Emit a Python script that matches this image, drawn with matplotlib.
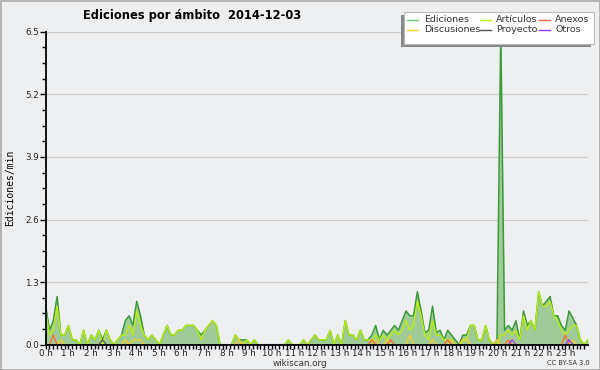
import numpy as np
import matplotlib
matplotlib.use("Agg")
import matplotlib.pyplot as plt
from matplotlib.patches import Rectangle
from matplotlib.lines import Line2D

title = "Ediciones por ámbito  2014-12-03"
hour_labels = [f"{h} h" for h in range(24)]
y_ticks = [0.0, 1.3, 2.6, 3.9, 5.2, 6.5]

# edits/min, 10-minute bins (144 per day)
ediciones = [
    0.8, 0.3, 0.5, 1.0, 0.2, 0.2, 0.4, 0.1, 0.1, 0.0,
    0.3, 0.0, 0.2, 0.1, 0.3, 0.1, 0.3, 0.1, 0.0, 0.1,
    0.2, 0.5, 0.6, 0.4, 0.9, 0.6, 0.2, 0.1, 0.2, 0.1,
    0.0, 0.2, 0.4, 0.2, 0.2, 0.3, 0.3, 0.4, 0.4, 0.4,
    0.3, 0.2, 0.3, 0.4, 0.5, 0.4, 0.0, 0.0, 0.0, 0.0,
    0.2, 0.1, 0.1, 0.1, 0.0, 0.1, 0.0, 0.0, 0.0, 0.0,
    0.0, 0.0, 0.0, 0.0, 0.1, 0.0, 0.0, 0.0, 0.1, 0.0,
    0.1, 0.2, 0.1, 0.1, 0.1, 0.3, 0.0, 0.2, 0.0, 0.5,
    0.2, 0.2, 0.1, 0.3, 0.1, 0.1, 0.2, 0.4, 0.1, 0.3,
    0.2, 0.3, 0.4, 0.3, 0.5, 0.7, 0.6, 0.6, 1.1, 0.7,
    0.25, 0.3, 0.8, 0.25, 0.3, 0.1, 0.3, 0.2, 0.1, 0.0,
    0.2, 0.2, 0.4, 0.4, 0.1, 0.1, 0.4, 0.1, 0.0, 0.1,
    6.5, 0.3, 0.4, 0.3, 0.5, 0.1, 0.7, 0.4, 0.5, 0.3,
    1.1, 0.8, 0.9, 1.0, 0.6, 0.6, 0.4, 0.3, 0.7, 0.55,
    0.4, 0.1, 0.0, 0.1,
]
articulos = [
    0.7, 0.2, 0.3, 0.8, 0.2, 0.2, 0.4, 0.1, 0.1, 0.0,
    0.3, 0.0, 0.2, 0.1, 0.3, 0.0, 0.3, 0.1, 0.0, 0.1,
    0.2, 0.2, 0.4, 0.2, 0.7, 0.4, 0.2, 0.1, 0.2, 0.1,
    0.0, 0.2, 0.4, 0.2, 0.2, 0.3, 0.3, 0.4, 0.4, 0.4,
    0.3, 0.1, 0.3, 0.4, 0.5, 0.4, 0.0, 0.0, 0.0, 0.0,
    0.2, 0.1, 0.0, 0.1, 0.0, 0.1, 0.0, 0.0, 0.0, 0.0,
    0.0, 0.0, 0.0, 0.0, 0.1, 0.0, 0.0, 0.0, 0.1, 0.0,
    0.1, 0.2, 0.1, 0.1, 0.1, 0.3, 0.0, 0.2, 0.0, 0.5,
    0.2, 0.2, 0.1, 0.3, 0.1, 0.1, 0.1, 0.2, 0.1, 0.2,
    0.1, 0.2, 0.3, 0.2, 0.3, 0.5, 0.3, 0.4, 0.9, 0.6,
    0.2, 0.1, 0.5, 0.2, 0.2, 0.1, 0.1, 0.1, 0.0, 0.0,
    0.1, 0.1, 0.4, 0.4, 0.1, 0.1, 0.4, 0.1, 0.0, 0.0,
    0.2, 0.2, 0.3, 0.2, 0.3, 0.1, 0.6, 0.3, 0.5, 0.3,
    1.1, 0.8, 0.8, 0.9, 0.6, 0.5, 0.3, 0.2, 0.3, 0.4,
    0.4, 0.1, 0.0, 0.1,
]
discusiones = [0.0] * 144
for k, v in {4: 0.1, 21: 0.1, 23: 0.1, 24: 0.1, 25: 0.1, 51: 0.1, 87: 0.1,
             90: 0.1, 96: 0.2, 102: 0.1, 107: 0.1, 110: 0.1, 111: 0.1,
             119: 0.1, 123: 0.1, 139: 0.1}.items():
    discusiones[k] = v
anexos = [0.0] * 144
for k, v in {2: 0.2, 86: 0.1, 91: 0.1, 106: 0.1, 122: 0.1, 137: 0.2}.items():
    anexos[k] = v
proyecto = [0.0] * 144
proyecto[15] = 0.1
otros = [0.0] * 144
otros[123] = 0.1
otros[138] = 0.1

bg = "#eeeff0"
fig = plt.figure(figsize=(6.0, 3.7), dpi=100, facecolor=bg)
ax = fig.add_axes([45.7 / 600, 1 - 344.7 / 370, (588 - 45.7) / 600, (344.7 - 31.7) / 370])
ax.set_facecolor(bg)

x = np.arange(144) * 24.0 / 143.0

c_ed_line = "#3a9a3a"
c_ed_fill = "#9fcb98"
c_art = "#bbee11"
c_dis = "#ffcc22"
c_anx = "#ff6633"
c_pro = "#555555"
c_otr = "#9933ff"

ax.fill_between(x, 0, ediciones, color=c_ed_fill, lw=0, zorder=1)
ax.plot(x, ediciones, color=c_ed_line, lw=1.1, zorder=2)
ax.plot(x, articulos, color=c_art, lw=1.0, zorder=3)
ax.plot(x, discusiones, color=c_dis, lw=0.9, zorder=4)
ax.plot(x, anexos, color=c_anx, lw=0.9, zorder=4)
ax.plot(x, proyecto, color=c_pro, lw=0.9, zorder=4)
ax.plot(x, otros, color=c_otr, lw=0.9, zorder=4)

ax.set_xlim(0, 24)
ax.set_ylim(0, 6.5)
ax.set_xticks(range(24))
ax.set_xticklabels(hour_labels)
ax.set_xticks(np.arange(0, 24, 1 / 6), minor=True)
ax.set_yticks(y_ticks)
ax.set_yticklabels([f"{v:.1f}" for v in y_ticks])
ax.set_yticks(np.arange(0, 6.5, 1.3 / 4), minor=True)
for s in ["top", "right"]:
    ax.spines[s].set_visible(False)
for s in ["left", "bottom"]:
    ax.spines[s].set_linewidth(1.3)
    ax.spines[s].set_zorder(6)
ax.tick_params(axis="x", which="both", length=3, width=1, direction="out",
               labelsize=6.3, pad=0.3, colors="black", labelcolor="#222222")
ax.tick_params(axis="y", which="major", length=4, width=1, labelsize=6.3, pad=1,
               labelcolor="#222222")
ax.tick_params(axis="y", which="minor", length=3, width=1)
ax.yaxis.grid(True, which="major", color="#cccccc", lw=0.9, zorder=0)
ax.set_axisbelow(True)

fig.text(10 / 600, 1 - 188 / 370, "Ediciones/min", rotation=90, ha="center",
         va="center", fontsize=7, family="DejaVu Sans Mono")
fig.text(192 / 600, 1 - 15 / 370, title, ha="center", va="center",
         fontsize=8.3, fontweight="bold")
fig.text(300 / 600, 1 - 363.5 / 370, "wikiscan.org", ha="center", va="center",
         fontsize=6.3, color="#333333")
fig.text(590 / 600, 1 - 363 / 370, "CC BY-SA 3.0", ha="right", va="center",
         fontsize=4.8, color="#333333")

# legend box with shadow
lx0, ly0, lx1, ly1 = 404, 12, 594, 44
fig.patches.append(Rectangle(((lx0 - 3) / 600, 1 - (ly1 + 3) / 370),
                             (lx1 - lx0) / 600, (ly1 - ly0) / 370,
                             transform=fig.transFigure, facecolor="#888888",
                             edgecolor="none", zorder=10))
fig.patches.append(Rectangle((lx0 / 600, 1 - ly1 / 370), (lx1 - lx0) / 600,
                             (ly1 - ly0) / 370, transform=fig.transFigure,
                             facecolor="white", edgecolor="#bbbbbb", lw=0.8,
                             zorder=11))
legend_items = [
    ("Ediciones", "#66cc66", 407, 20, 424), ("Artículos", c_art, 480, 20, 496),
    ("Anexos", c_anx, 539, 20, 555),
    ("Discusiones", c_dis, 407, 29.5, 424), ("Proyecto", c_pro, 480, 29.5, 496),
    ("Otros", c_otr, 539, 29.5, 555),
]
for name, col, px, py, tx in legend_items:
    fig.add_artist(Line2D([px / 600, (px + 11) / 600], [1 - py / 370, 1 - py / 370],
                          transform=fig.transFigure, color=col, lw=1.0, zorder=12))
    fig.text(tx / 600, 1 - py / 370, name, ha="left", va="center",
             fontsize=6.8, color="#333333", zorder=12)

# outer border
fig.patches.append(Rectangle((0.5 / 600, 0.5 / 370), 599 / 600, 369 / 370,
                             transform=fig.transFigure, facecolor="none",
                             edgecolor="#aaaaaa", lw=1.2, zorder=20))

fig.savefig("out.png", dpi=100, facecolor=bg)
